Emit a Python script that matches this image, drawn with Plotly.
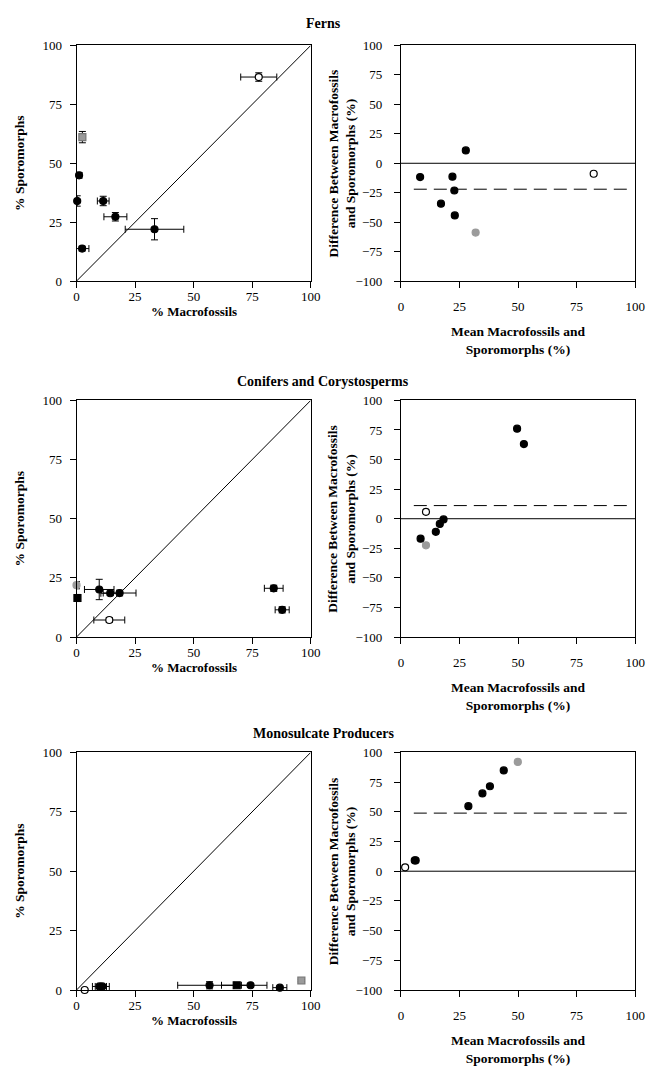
import plotly.graph_objects as go

# ---------------- data ----------------
# Ferns
ferns_macro = [77.8, 2.5, 1.1, 0.3, 11.4, 16.6, 33.3, 2.4]
ferns_sporo = [86.6, 61.1, 44.9, 34.0, 34.0, 27.3, 22.0, 13.8]
ferns_macro_err = [7.7, 0.6, 0.8, 0.5, 2.5, 4.9, 12.5, 2.9]
ferns_sporo_err = [1.8, 2.4, 1.2, 2.2, 2.0, 1.8, 4.5, 1.0]
ferns_kind = ["open", "grey_sq", "black", "black", "black", "black", "black", "black"]
ferns_mean = [82.3, 31.9, 23.0, 17.1, 22.8, 22.0, 27.7, 8.2]
ferns_diff = [-8.9, -58.8, -44.3, -34.3, -23.1, -11.4, 10.9, -11.7]
ferns_bias = -22.0

# Conifers and Corystosperms
con_macro = [0.0, 0.4, 9.7, 14.4, 18.4, 14.0, 84.2, 87.8]
con_sporo = [21.9, 16.5, 20.1, 18.5, 18.6, 7.2, 20.6, 11.5]
con_macro_err = [0.5, 0.5, 6.3, 4.0, 7.0, 6.6, 4.0, 3.0]
con_sporo_err = [1.5, 1.5, 4.3, 1.0, 1.2, 1.0, 1.3, 1.3]
con_kind = ["grey", "black_sq", "black", "black", "black", "open", "black", "black"]
con_mean = [10.7, 8.4, 14.9, 16.6, 18.2, 10.7, 52.5, 49.6]
con_diff = [-22.5, -16.9, -11.1, -4.4, -0.6, 5.8, 63.1, 76.1]
con_bias = 11.1

# Monosulcate Producers
mono_macro = [3.5, 9.8, 11.0, 56.8, 68.4, 74.3, 86.8, 96.0]
mono_sporo = [0.0, 1.5, 1.5, 2.0, 2.0, 2.0, 1.0, 4.0]
mono_macro_err = [0.5, 3.0, 3.0, 13.6, 6.5, 7.0, 3.0, 0.5]
mono_sporo_err = [0.3, 0.8, 0.8, 1.5, 0.8, 0.8, 0.6, 0.5]
mono_kind = ["open", "black", "black", "black", "black_sq", "black", "black", "grey_sq"]
mono_mean = [1.8, 5.9, 6.3, 28.8, 34.8, 38.0, 43.9, 49.9]
mono_diff = [3.3, 9.1, 9.1, 54.7, 65.5, 71.5, 84.8, 92.0]
mono_bias = 48.9

titles = ["Ferns", "Conifers and Corystosperms", "Monosulcate Producers"]
ticks_pct = [0, 25, 50, 75, 100]
ticks_diff = [-100, -75, -50, -25, 0, 25, 50, 75, 100]

# ---------------- styling ----------------
FONT = "Liberation Serif, Times New Roman, Times, serif"
GREY = "#9b9b9b"
W, H = 653, 1070


def px_x(p):
    return p / W


def px_y(p):
    return 1 - p / H


left_dom = [px_x(75), px_x(314)]
right_dom = [px_x(406), px_x(645)]
rows_px = [(39, 278), (399, 639), (756, 997)]
title_px = [17, 380, 737]


def style_arrays(kinds, left=True):
    sym, fill, line = [], [], []
    for k in kinds:
        sq = k.endswith("_sq") and left
        sym.append("square" if sq else "circle")
        if k.startswith("open"):
            fill.append("white"); line.append("black")
        elif k.startswith("grey"):
            fill.append(GREY); line.append("#777777" if sq else GREY)
        else:
            fill.append("black"); line.append("black")
    return sym, fill, line


fig = go.Figure()

panels = [
    (ferns_macro, ferns_sporo, ferns_macro_err, ferns_sporo_err, ferns_kind, ferns_mean, ferns_diff, ferns_bias),
    (con_macro, con_sporo, con_macro_err, con_sporo_err, con_kind, con_mean, con_diff, con_bias),
    (mono_macro, mono_sporo, mono_macro_err, mono_sporo_err, mono_kind, mono_mean, mono_diff, mono_bias),
]

axis_common = dict(
    showline=True, linecolor="black", linewidth=1, mirror=True,
    ticks="outside", ticklen=6, tickwidth=1, tickcolor="black",
    showgrid=False, zeroline=False,
    tickfont=dict(family=FONT, size=13, color="black"),
)

annotations = []

for i, (mx, sy, mxe, sye, kind, mean, diff, bias) in enumerate(panels):
    top, bot = rows_px[i]
    ydom = [px_y(bot), px_y(top)]
    la = 2 * i + 1
    ra = 2 * i + 2
    lx = "x" if la == 1 else f"x{la}"
    ly = "y" if la == 1 else f"y{la}"
    rx = f"x{ra}"
    ry = f"y{ra}"

    # 1:1 line
    fig.add_trace(go.Scatter(x=[0, 100], y=[0, 100], mode="lines",
                             line=dict(color="black", width=1),
                             xaxis=lx, yaxis=ly, showlegend=False, hoverinfo="skip"))
    sym, fill, line = style_arrays(kind, left=True)
    fig.add_trace(go.Scatter(
        x=mx, y=sy, mode="markers", xaxis=lx, yaxis=ly, showlegend=False,
        cliponaxis=False,
        error_x=dict(type="data", array=mxe, color="black", thickness=1, width=3.5),
        error_y=dict(type="data", array=sye, color="black", thickness=1, width=3.5),
        marker=dict(symbol=sym, color=fill, size=7, line=dict(color=line, width=1.2)),
    ))

    # difference vs mean panel
    fig.add_trace(go.Scatter(x=[0, 100], y=[0, 0], mode="lines",
                             line=dict(color="black", width=1),
                             xaxis=rx, yaxis=ry, showlegend=False, hoverinfo="skip"))
    fig.add_trace(go.Scatter(x=[5.5, 97.5], y=[bias, bias], mode="lines",
                             line=dict(color="black", width=1, dash="13px,7px"),
                             xaxis=rx, yaxis=ry, showlegend=False, hoverinfo="skip"))
    sym_r, fill_r, line_r = style_arrays(kind, left=False)
    fig.add_trace(go.Scatter(
        x=mean, y=diff, mode="markers", xaxis=rx, yaxis=ry, showlegend=False,
        cliponaxis=False,
        marker=dict(symbol=sym_r, color=fill_r, size=7, line=dict(color=line_r, width=1.2)),
    ))

    fig.layout[("xaxis" if la == 1 else f"xaxis{la}")] = dict(
        axis_common, domain=left_dom, range=[0, 100], tickvals=ticks_pct, anchor=ly,
        ticklabelstandoff=-3)
    fig.layout[("yaxis" if la == 1 else f"yaxis{la}")] = dict(
        axis_common, domain=ydom, range=[0, 100], tickvals=ticks_pct, anchor=lx,
        ticklabelstandoff=5)
    fig.layout[f"xaxis{ra}"] = dict(
        axis_common, domain=right_dom, range=[0, 100], tickvals=ticks_pct, anchor=ry,
        ticklabelstandoff=7)
    fig.layout[f"yaxis{ra}"] = dict(
        axis_common, domain=ydom, range=[-100, 100], tickvals=ticks_diff, anchor=rx,
        ticklabelstandoff=9)

    # panel title
    annotations.append(dict(text=f"<b>{titles[i]}</b>", x=0.5, y=px_y(title_px[i]),
                            xref="paper", yref="paper", showarrow=False,
                            font=dict(family=FONT, size=14, color="black"),
                            xanchor="center", yanchor="middle"))
    # left axis titles
    annotations.append(dict(text="<b>% Macrofossils</b>", x=px_x(195), y=px_y(bot + 31),
                            xref="paper", yref="paper", showarrow=False,
                            font=dict(family=FONT, size=13, color="black"),
                            xanchor="center", yanchor="middle"))
    annotations.append(dict(text="<b>% Sporomorphs</b>", x=px_x(17), y=px_y((top + bot) / 2),
                            xref="paper", yref="paper", showarrow=False, textangle=-90,
                            font=dict(family=FONT, size=13.5, color="black"),
                            xanchor="center", yanchor="middle"))
    # right axis titles
    annotations.append(dict(text="<b>Mean Macrofossils and<br>Sporomorphs (%)</b>",
                            x=px_x(525), y=px_y(bot + 60),
                            xref="paper", yref="paper", showarrow=False,
                            font=dict(family=FONT, size=13.5, color="black"),
                            xanchor="center", yanchor="middle"))
    annotations.append(dict(text="<b>Difference Between Macrofossils<br>and Sporomorphs (%)</b>",
                            x=px_x(346), y=px_y((top + bot) / 2),
                            xref="paper", yref="paper", showarrow=False, textangle=-90,
                            font=dict(family=FONT, size=13.5, color="black"),
                            xanchor="center", yanchor="middle"))

fig.update_layout(
    width=W, height=H,
    margin=dict(l=0, r=0, t=0, b=0),
    paper_bgcolor="white", plot_bgcolor="white",
    font=dict(family=FONT, color="black"),
    annotations=annotations,
    showlegend=False,
)

fig.write_html("out.html")
